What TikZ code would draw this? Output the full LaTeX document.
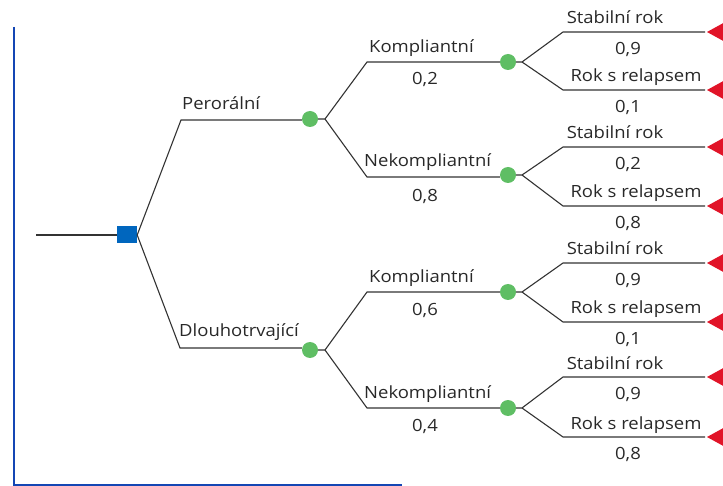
\documentclass[tikz,border=0pt]{standalone}
\usepackage{fontspec}
\setmainfont{Open Sans}[FakeStretch=1.1]
\begin{document}
\begin{tikzpicture}[x=1pt,y=-1pt,
  edge/.style={draw=black!80, line width=1.1pt},
  chancedot/.style={circle, fill={rgb,255:red,95;green,190;blue,100}, draw=none, minimum size=16pt, inner sep=0pt},
  decision/.style={rectangle, fill={rgb,255:red,0;green,102;blue,190}, draw=none, minimum width=20pt, minimum height=17pt, inner sep=0pt},
  lbl/.style={font=\fontsize{16.8}{19}\selectfont, text={rgb,255:red,40;green,40;blue,40}, inner sep=0pt},
  term/.style={fill={rgb,255:red,225;green,20;blue,40}, draw=none},
  frame/.style={draw={rgb,255:red,20;green,70;blue,180}, line width=2.2pt}
]
\useasboundingbox (0,0) rectangle (723,486);
\clip (0,0) rectangle (723,486);

% frame
\coordinate (ftop) at (14,27);
\coordinate (fcorner) at (14,485);
\coordinate (fend) at (402,485);
\draw[frame] (ftop) -- (fcorner) -- (fend);

% root
\coordinate (start) at (36,235);
\node[decision] (D) at (127,235) {};
\draw[edge] (start) -- (D.west);

% level 1
\node[chancedot] (P) at (310,119) {};
\node[chancedot] (L) at (310,350) {};
\coordinate (Pc) at (181,120);
\coordinate (Lc) at (180,348);
\draw[edge] (D.east) -- (Pc) -- (P.west |- Pc);
\draw[edge] (D.east) -- (Lc) -- (L.west |- Lc);
\node[lbl, anchor=base west] (tP) at (182,110) {Perorální};
\node[lbl, anchor=base west] (tL) at (179,337) {Dlouhotrvající};

% level 2 chance nodes
\node[chancedot] (PK) at (508,62) {};
\node[chancedot] (PN) at (508,175) {};
\node[chancedot] (LK) at (508,292) {};
\node[chancedot] (LN) at (508,408) {};

\coordinate (Pj) at (325,119);
\coordinate (Lj) at (325,350);
\coordinate (PKc) at (367,62);
\coordinate (PNc) at (367,177);
\coordinate (LKc) at (367,292);
\coordinate (LNc) at (367,408);
\draw[edge] (P.east) -- (Pj) -- (PKc) -- (PK.west |- PKc);
\draw[edge] (Pj) -- (PNc) -- (PN.west |- PNc);
\draw[edge] (L.east) -- (Lj) -- (LKc) -- (LK.west |- LKc);
\draw[edge] (Lj) -- (LNc) -- (LN.west |- LNc);

\node[lbl, anchor=base west] (tPK) at (369,53) {Kompliantní};
\node[lbl] (pPK) at (425,79) {0,2};
\node[lbl, anchor=base west] (tPN) at (364,167) {Nekompliantní};
\node[lbl] (pPN) at (425,196) {0,8};
\node[lbl, anchor=base west] (tLK) at (369,283) {Kompliantní};
\node[lbl] (pLK) at (425,310) {0,6};
\node[lbl, anchor=base west] (tLN) at (364,398) {Nekompliantní};
\node[lbl] (pLN) at (425,426) {0,4};

% leaves
\foreach \n/\y/\ya/\yb/\pa/\pb in {PK/62/32/90/{0,9}/{0,1}, PN/175/147/206/{0,2}/{0,8}, LK/292/263/322/{0,9}/{0,1}, LN/408/377/437/{0,9}/{0,8}}{
  \coordinate (\n j) at (522,\y);
  \coordinate (\n ac) at (563,\ya);
  \coordinate (\n bc) at (563,\yb);
  \coordinate (\n ae) at (705,\ya);
  \coordinate (\n be) at (705,\yb);
  \draw[edge] (\n.east) -- (\n j) -- (\n ac) -- (\n ae);
  \draw[edge] (\n j) -- (\n bc) -- (\n be);
  \fill[term] (707,\ya) -- (727,\ya-11) -- (727,\ya+11) -- cycle;
  \fill[term] (707,\yb) -- (727,\yb-11) -- (727,\yb+11) -- cycle;
  \node[lbl, anchor=base] at (615,\ya-8) {Stabilní rok};
  \node[lbl] at (628,\ya+17) {\pa};
  \node[lbl, anchor=base] at (636,\yb-8) {Rok s relapsem};
  \node[lbl] at (628,\yb+17) {\pb};
}
\end{tikzpicture}
\end{document}
